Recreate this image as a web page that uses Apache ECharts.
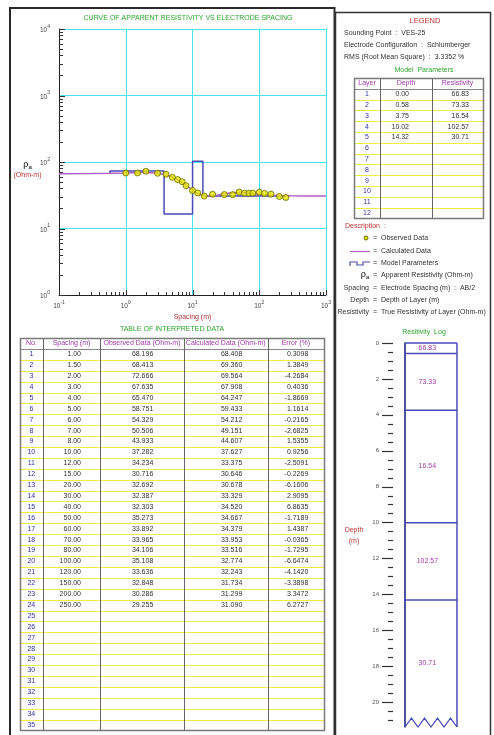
<!DOCTYPE html>
<html>
<head>
<meta charset="utf-8">
<script src="https://cdn.jsdelivr.net/npm/echarts@6/dist/echarts.min.js"></script>
<style>
html,body{margin:0;padding:0;background:#ffffff;}
#c{width:494px;height:735px;}
</style>
</head>
<body>
<div id="c"></div>
<script>
// ---- VES-25 sounding data ----
const spacing = [1.00, 1.50, 2.00, 3.00, 4.00, 5.00, 6.00, 7.00, 8.00, 10.00, 12.00, 15.00, 20.00, 30.00, 40.00, 50.00, 60.00, 70.00, 80.00, 100.00, 120.00, 150.00, 200.00, 250.00];
const observed = [68.196, 68.413, 72.666, 67.635, 65.470, 58.751, 54.329, 50.506, 43.933, 37.282, 34.234, 30.716, 32.692, 32.387, 32.303, 35.273, 33.892, 33.965, 34.106, 35.108, 33.636, 32.848, 30.286, 29.255];
const calculated = [68.408, 69.360, 69.564, 67.908, 64.247, 59.433, 54.212, 49.151, 44.607, 37.627, 33.375, 30.646, 30.678, 33.329, 34.520, 34.667, 34.379, 33.953, 33.516, 32.774, 32.243, 31.734, 31.299, 31.090];
const errorPct = [0.3098, 1.3849, -4.2684, 0.4036, -1.8669, 1.1614, -0.2165, -2.6825, 1.5355, 0.9256, -2.5091, -0.2269, -6.1606, 2.9095, 6.8635, -1.7189, 1.4387, -0.0365, -1.7295, -6.6474, -4.1420, -3.3898, 3.3472, 6.2727];

// calculated curve beyond the measured spacings
const calcHeadSpacing = [0.1, 0.3, 0.6];
const calcHeadValue = [66.85, 67.0, 67.5];
const calcTailSpacing = [300, 500, 1000];
const calcTailValue = [30.98, 30.80, 30.73];

// layered model
const layerNo = [1, 2, 3, 4, 5, 6, 7, 8, 9, 10, 11, 12];
const layerDepth = [0.00, 0.58, 3.75, 10.02, 14.32];
const layerRes = [66.83, 73.33, 16.54, 102.57, 30.71];

// axis ticks
const xDecades = [-1, 0, 1, 2];
const yDecades = [0, 1, 2, 3];
const depthLabels = [0, 2, 4, 6, 8, 10, 12, 14, 16, 18, 20];
const depthMax = 21.4;
const tableRowCount = 35;

const FONT = 'Liberation Sans';
const TXT = '#333333';
const RED = '#c03434';
const GREEN = '#2fa52f';
const PURPLE = '#a03aa8';
const BLUE = '#3232a8';
const YELLOW = '#eeee40';
const CYAN = '#46e6ee';
const CALC = '#b060c4';
const MODEL = '#4a4ab4';

const chart = echarts.init(document.getElementById('c'), null, {renderer: 'canvas', width: 494, height: 735});

// ---- derived series ----
const obsData = spacing.map((s, i) => [s, observed[i]]);
const calcData = calcHeadSpacing.map((s, i) => [s, calcHeadValue[i]])
  .concat(spacing.map((s, i) => [s, calculated[i]]))
  .concat(calcTailSpacing.map((s, i) => [s, calcTailValue[i]]));
const modelData = [[layerDepth[1], layerRes[0]]];
for (let i = 1; i < layerDepth.length; i++) {
  const end = i + 1 < layerDepth.length ? layerDepth[i + 1] : spacing[spacing.length - 1];
  modelData.push([layerDepth[i], layerRes[i]]);
  modelData.push([end, layerRes[i]]);
}

// log tick marks (kind: 0 x-minor, 1 x-major, 2 y-minor, 3 y-major)
const logTicks = [];
xDecades.forEach(e => { for (let m = 1; m <= 9; m++) logTicks.push([m * Math.pow(10, e), 1, m === 1 ? 1 : 0]); });
logTicks.push([1000, 1, 1]);
yDecades.forEach(e => { for (let m = 1; m <= 9; m++) logTicks.push([0.1, m * Math.pow(10, e), m === 1 ? 3 : 2]); });
logTicks.push([0.1, 10000, 3]);

const depthTicks = [];
for (let d = 0; d <= 21; d += 0.5) depthTicks.push([0, d, d % 2 === 0 ? 1 : 0]);

const logLayers = layerDepth.map((d, i) => [d, i + 1 < layerDepth.length ? layerDepth[i + 1] : depthMax, layerRes[i], i]);

function powLabel(v) {
  const e = Math.round(Math.log10(v));
  return '{b|10}{s|' + e + '}';
}
const powRich = {
  b: {fontSize: 6.5, fontFamily: FONT, color: '#444', verticalAlign: 'bottom', lineHeight: 10},
  s: {fontSize: 5, fontFamily: FONT, color: '#444', verticalAlign: 'top', lineHeight: 10}
};

// ---- generic table drawn as a custom series over a row-category axis ----
function tableSeries(gi, rowCount, edges, header, cellFn, headerLine) {
  const data = [];
  for (let r = 0; r <= rowCount; r++) data.push([0, r]);
  return {
    type: 'custom', xAxisIndex: gi, yAxisIndex: gi, silent: true, clip: false, z: 5,
    data: data,
    renderItem(params, api) {
      const r = params.dataIndex;
      const n = rowCount + 1;
      const c = api.coord([0, r]);
      const h = api.size([0, 1])[1];
      const X = v => api.coord([v, r])[0];
      const yc = c[1];
      const bot = Math.round(yc + h / 2) + 0.5;
      const children = [];
      const rowCells = r === 0 ? header : cellFn(r);
      // bottom separator of the row
      if (r < n - 1) {
        children.push({type: 'line', z2: 1, shape: {x1: X(edges[0]), y1: bot, x2: X(edges[edges.length - 1]), y2: bot},
          style: {stroke: r === 0 ? headerLine : YELLOW, lineWidth: 1}});
      }
      rowCells.forEach((cell, ci) => {
        if (!cell || cell.text === '') return;
        let x;
        if (cell.align === 'right') x = X(cell.at);
        else x = X((edges[ci] + edges[ci + 1]) / 2);
        children.push({type: 'text', z2: 5, x: x, y: yc,
          style: {text: cell.text, fill: cell.color, font: '7px "' + FONT + '"', align: cell.align || 'center', verticalAlign: 'middle'}});
      });
      if (r === 0) {
        const top = Math.round(yc - h / 2) + 0.5;
        const last = api.coord([0, n - 1])[1] + h / 2;
        edges.slice(1, -1).forEach(e => {
          const xx = Math.round(X(e)) + 0.5;
          children.push({type: 'line', z2: 10, shape: {x1: xx, y1: top, x2: xx, y2: last}, style: {stroke: '#666', lineWidth: 1}});
        });
        children.push({type: 'rect', z2: 11, shape: {x: Math.round(X(edges[0])) + 0.5, y: top, width: X(edges[edges.length - 1]) - X(edges[0]), height: last - top},
          style: {fill: null, stroke: '#7a7a7a', lineWidth: 1.5}});
      }
      return {type: 'group', children: children};
    }
  };
}

const mainEdges = [0, 22.7, 80.3, 163.7, 247.7, 304];
const mainHeader = [
  {text: 'No.', color: PURPLE}, {text: 'Spacing (m)', color: PURPLE}, {text: 'Observed Data (Ohm-m)', color: PURPLE},
  {text: 'Calculated Data (Ohm-m)', color: PURPLE}, {text: 'Error (%)', color: PURPLE}
];
function mainCells(r) {
  const i = r - 1;
  const has = i < spacing.length;
  return [
    {text: String(r), color: BLUE},
    {text: has ? spacing[i].toFixed(2) : '', color: TXT, align: 'right', at: 61},
    {text: has ? observed[i].toFixed(3) : '', color: TXT, align: 'right', at: 133.3},
    {text: has ? calculated[i].toFixed(3) : '', color: TXT, align: 'right', at: 222.3},
    {text: has ? errorPct[i].toFixed(4) : '', color: TXT, align: 'right', at: 288.3}
  ];
}

const modelEdges = [0, 26, 78, 129];
const modelHeader = [{text: 'Layer', color: PURPLE}, {text: 'Depth', color: PURPLE}, {text: 'Resistivity', color: PURPLE}];
function modelCells(r) {
  const i = r - 1;
  const has = i < layerDepth.length;
  return [
    {text: String(layerNo[i]), color: BLUE},
    {text: has ? layerDepth[i].toFixed(2) : '', color: TXT, align: 'right', at: 55},
    {text: has ? layerRes[i].toFixed(2) : '', color: TXT, align: 'right', at: 115}
  ];
}

function rowCats(n) { const a = []; for (let i = 0; i <= n; i++) a.push(i); return a; }

function txt(x, y, text, color, align, size) {
  return {type: 'text', x: x, y: y, silent: true,
    style: {text: text, fill: color || TXT, font: (size || 7) + 'px "' + FONT + '"', align: align || 'left', verticalAlign: 'middle'}};
}

const option = {
  backgroundColor: '#ffffff',
  animation: false,
  grid: [
    {left: 59, top: 29, width: 267, height: 266},
    {left: 405, top: 343, width: 52, height: 384},
    {left: 354, top: 78, width: 129, height: 140.4},
    {left: 20, top: 338, width: 304, height: 392.4}
  ],
  xAxis: [
    {type: 'log', logBase: 10, min: 0.1, max: 1000, gridIndex: 0,
      axisLine: {show: true, lineStyle: {color: '#222', width: 1}}, axisTick: {show: false},
      splitLine: {show: true, lineStyle: {color: CYAN, width: 1}},
      axisLabel: {formatter: powLabel, rich: powRich, margin: 5},
      name: 'Spacing (m)', nameLocation: 'middle', nameGap: 19,
      nameTextStyle: {color: '#a83434', fontSize: 7, fontFamily: FONT}},
    {type: 'value', min: 0, max: 1, gridIndex: 1, show: false},
    {type: 'value', min: 0, max: 129, gridIndex: 2, show: false},
    {type: 'value', min: 0, max: 304, gridIndex: 3, show: false}
  ],
  yAxis: [
    {type: 'log', logBase: 10, min: 1, max: 10000, gridIndex: 0,
      axisLine: {show: true, lineStyle: {color: '#222', width: 1}}, axisTick: {show: false},
      splitLine: {show: true, lineStyle: {color: CYAN, width: 1}},
      axisLabel: {formatter: powLabel, rich: powRich, margin: 9}},
    {type: 'value', min: 0, max: depthMax, interval: 2, inverse: true, gridIndex: 1, offset: 12,
      axisLine: {show: true, lineStyle: {color: '#333', width: 1.5}}, axisTick: {show: false},
      splitLine: {show: false},
      axisLabel: {margin: 14, color: '#555', fontSize: 6, fontFamily: FONT,
        formatter: v => (depthLabels.indexOf(v) >= 0 ? String(v) : '')}},
    {type: 'category', data: rowCats(12), inverse: true, gridIndex: 2, show: false},
    {type: 'category', data: rowCats(tableRowCount), inverse: true, gridIndex: 3, show: false}
  ],
  series: [
    {name: 'Model Parameters', type: 'line', xAxisIndex: 0, yAxisIndex: 0, data: modelData, symbol: 'none',
      lineStyle: {color: MODEL, width: 1.5}, z: 2, silent: true},
    {name: 'Calculated Data', type: 'line', xAxisIndex: 0, yAxisIndex: 0, data: calcData, symbol: 'none',
      lineStyle: {color: CALC, width: 1.5}, z: 3, silent: true},
    {name: 'Observed Data', type: 'scatter', xAxisIndex: 0, yAxisIndex: 0, data: obsData, symbolSize: 6,
      itemStyle: {color: '#e6e600', borderColor: '#6a6a00', borderWidth: 1}, z: 4, silent: true},
    {type: 'custom', xAxisIndex: 0, yAxisIndex: 0, data: logTicks, clip: false, silent: true, z: 6,
      renderItem(params, api) {
        const p = api.coord([api.value(0), api.value(1)]);
        const k = api.value(2);
        if (k < 2) {
          const x = Math.round(p[0]) + 0.5, len = k === 1 ? 5 : 3;
          return {type: 'line', shape: {x1: x, y1: p[1], x2: x, y2: p[1] - len}, style: {stroke: '#333', lineWidth: 1}};
        }
        const y = Math.round(p[1]) + 0.5, len = k === 3 ? 6 : 4;
        return {type: 'line', shape: {x1: p[0], y1: y, x2: p[0] + len, y2: y}, style: {stroke: '#333', lineWidth: 1}};
      }},
    // resistivity log column
    {type: 'custom', xAxisIndex: 1, yAxisIndex: 1, data: logLayers, clip: false, silent: true, z: 5,
      renderItem(params, api) {
        const topD = api.value(0), botD = api.value(1), res = api.value(2), idx = api.value(3);
        const last = idx === layerDepth.length - 1;
        const tl = api.coord([0, topD]), br = api.coord([1, botD]);
        const st = {stroke: MODEL, lineWidth: 1.5};
        const ch = [
          {type: 'line', shape: {x1: tl[0], y1: tl[1], x2: br[0], y2: tl[1]}, style: st},
          {type: 'line', shape: {x1: tl[0], y1: tl[1], x2: tl[0], y2: br[1]}, style: st},
          {type: 'line', shape: {x1: br[0], y1: tl[1], x2: br[0], y2: br[1]}, style: st}
        ];
        if (last) {
          const pts = [];
          for (let j = 0; j <= 8; j++) {
            const f = j / 8;
            pts.push(api.coord([f, j % 2 === 0 ? botD : botD - 0.5]));
          }
          ch.push({type: 'polyline', shape: {points: pts}, style: {stroke: MODEL, lineWidth: 1.2, fill: null}});
        }
        const mid = api.coord([0.43, (topD + botD) / 2]);
        ch.push({type: 'text', x: mid[0], y: mid[1],
          style: {text: res.toFixed(2), fill: PURPLE, font: '7px "' + FONT + '"', align: 'center', verticalAlign: 'middle'}});
        return {type: 'group', children: ch};
      }},
    {type: 'custom', xAxisIndex: 1, yAxisIndex: 1, data: depthTicks, clip: false, silent: true, z: 5,
      renderItem(params, api) {
        const p = api.coord([0, api.value(1)]);
        const ax = p[0] - 12;
        const len = api.value(2) === 1 ? 11 : 5;
        const y = Math.round(p[1]) + 0.5;
        return {type: 'line', shape: {x1: ax - len, y1: y, x2: ax, y2: y}, style: {stroke: '#333', lineWidth: 1.2}};
      }},
    tableSeries(2, 12, modelEdges, modelHeader, modelCells, '#888'),
    tableSeries(3, tableRowCount, mainEdges, mainHeader, mainCells, '#888')
  ],
  graphic: [
    // panel frames
    {type: 'rect', silent: true, z: 0, shape: {x: 10, y: 8, width: 324.5, height: 740}, style: {fill: null, stroke: '#2a2a2a', lineWidth: 2}},
    {type: 'rect', silent: true, z: 0, shape: {x: 335.5, y: 12.5, width: 155, height: 740}, style: {fill: null, stroke: '#333', lineWidth: 1.5}},
    // chart captions
    txt(188, 18, 'CURVE OF APPARENT RESISTIVITY VS ELECTRODE SPACING', GREEN, 'center'),
    {type: 'text', x: 27.5, y: 165, silent: true,
      style: {text: '{r|ρ}{a|a}', align: 'center', verticalAlign: 'middle',
        rich: {r: {fontSize: 9, fontFamily: FONT, color: RED}, a: {fontSize: 6, fontFamily: FONT, color: RED, verticalAlign: 'bottom', padding: [4, 0, 0, 0]}}}},
    txt(27.5, 175, '(Ohm-m)', RED, 'center'),
    txt(172, 329, 'TABLE OF INTERPRETED DATA', GREEN, 'center'),
    // legend panel
    txt(425, 21, 'LEGEND', RED, 'center', 7.5),
    txt(344, 33, 'Sounding Point  :  VES-25'),
    txt(344, 45, 'Electrode Configuration  :  Schlumberger'),
    txt(344, 57, 'RMS (Root Mean Square)  :  3.3352 %'),
    txt(424, 70, 'Model  Parameters', GREEN, 'center'),
    txt(345, 226, 'Description  :', RED),
    {type: 'circle', silent: true, shape: {cx: 366, cy: 238, r: 2}, style: {fill: '#e6e600', stroke: '#6a6a00', lineWidth: 1}},
    txt(373, 238, '=  Observed Data'),
    {type: 'line', silent: true, shape: {x1: 350, y1: 251.5, x2: 370, y2: 251.5}, style: {stroke: CALC, lineWidth: 1.2}},
    txt(373, 251, '=  Calculated Data'),
    {type: 'polyline', silent: true, shape: {points: [[350, 266], [350, 262], [357, 262], [357, 265], [363, 265], [363, 262], [370, 262]]},
      style: {stroke: MODEL, lineWidth: 1.2, fill: null}},
    txt(373, 263, '=  Model Parameters'),
    {type: 'text', x: 365, y: 275, silent: true,
      style: {text: '{r|ρ}{a|a}', align: 'center', verticalAlign: 'middle',
        rich: {r: {fontSize: 9, fontFamily: FONT, color: TXT}, a: {fontSize: 6, fontFamily: FONT, color: TXT, verticalAlign: 'bottom', padding: [4, 0, 0, 0]}}}},
    txt(373, 275, '=  Apparent Resistivity (Ohm-m)'),
    txt(369, 288, 'Spacing', TXT, 'right'),
    txt(373, 288, '=  Electrode Spacing (m)  :  AB/2'),
    txt(369, 300, 'Depth', TXT, 'right'),
    txt(373, 300, '=  Depth of Layer (m)'),
    txt(369, 312, 'Resistivity', TXT, 'right'),
    txt(373, 312, '=  True Resistivity of Layer (Ohm-m)'),
    txt(424, 332, 'Resitivity  Log', GREEN, 'center'),
    txt(354, 530, 'Depth', RED, 'center'),
    txt(354, 541, '(m)', RED, 'center')
  ]
};

chart.setOption(option);
</script>
</body>
</html>
